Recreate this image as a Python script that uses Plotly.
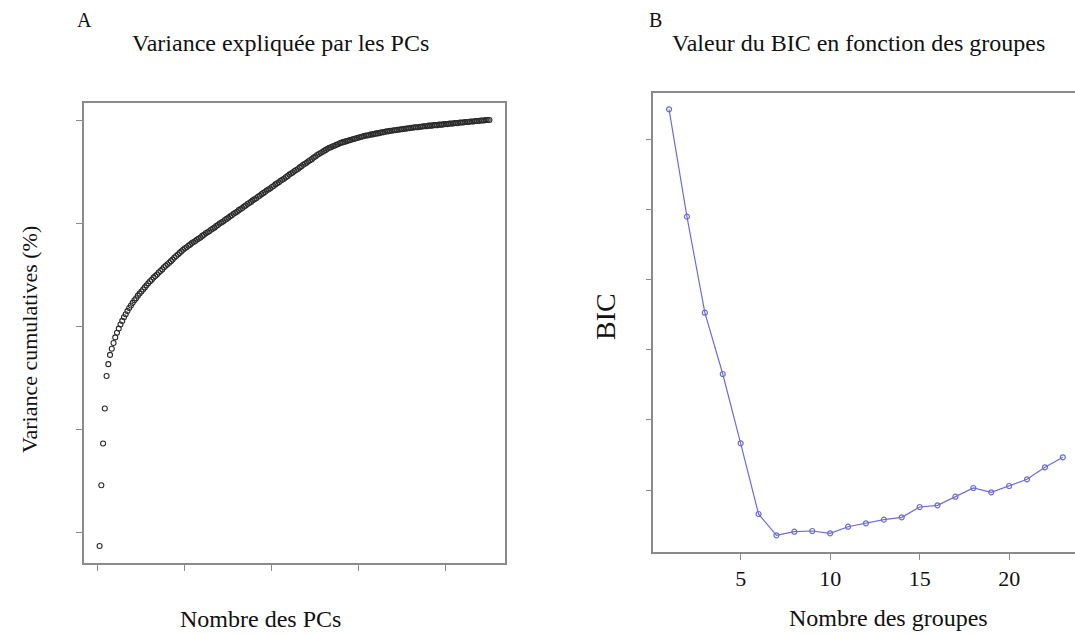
import plotly.graph_objects as go

# ---------------- Data ----------------
# Panel A: cumulative explained variance (%) per principal component
pc_variance_cum = [
    17.3, 29.1, 37.2, 44.0, 50.3, 52.6, 54.4, 55.6, 56.7, 57.8,
    58.7, 59.5, 60.3, 61.0, 61.7, 62.3, 62.9, 63.5, 64.0, 64.5,
    65.0, 65.4, 65.9, 66.3, 66.7, 67.1, 67.5, 67.9, 68.3, 68.7,
    69.0, 69.4, 69.7, 70.0, 70.4, 70.7, 71.0, 71.4, 71.7, 72.0,
    72.3, 72.6, 72.9, 73.3, 73.6, 73.9, 74.2, 74.5, 74.8, 75.1,
    75.3, 75.6, 75.8, 76.1, 76.3, 76.5, 76.8, 77.0, 77.2, 77.5,
    77.7, 78.0, 78.2, 78.4, 78.7, 78.9, 79.1, 79.4, 79.6, 79.9,
    80.1, 80.3, 80.6, 80.8, 81.0, 81.3, 81.5, 81.8, 82.0, 82.2,
    82.5, 82.7, 82.9, 83.2, 83.4, 83.7, 83.9, 84.1, 84.4, 84.6,
    84.8, 85.1, 85.3, 85.6, 85.8, 86.0, 86.3, 86.5, 86.7, 87.0,
    87.2, 87.5, 87.7, 87.9, 88.2, 88.4, 88.6, 88.9, 89.1, 89.4,
    89.6, 89.8, 90.1, 90.3, 90.5, 90.8, 91.0, 91.3, 91.5, 91.7,
    92.0, 92.2, 92.4, 92.7, 92.9, 93.2, 93.4, 93.6, 93.8, 94.0,
    94.2, 94.4, 94.6, 94.7, 94.9, 95.0, 95.2, 95.3, 95.5, 95.6,
    95.7, 95.8, 95.9, 96.0, 96.1, 96.2, 96.3, 96.4, 96.5, 96.6,
    96.7, 96.8, 96.9, 97.0, 97.0, 97.1, 97.2, 97.2, 97.3, 97.4,
    97.4, 97.5, 97.6, 97.6, 97.7, 97.8, 97.8, 97.9, 97.9, 98.0,
    98.0, 98.1, 98.1, 98.2, 98.2, 98.3, 98.3, 98.4, 98.4, 98.5,
    98.5, 98.6, 98.6, 98.6, 98.7, 98.7, 98.8, 98.8, 98.8, 98.9,
    98.9, 98.9, 99.0, 99.0, 99.0, 99.1, 99.1, 99.1, 99.2, 99.2,
    99.2, 99.3, 99.3, 99.3, 99.4, 99.4, 99.4, 99.5, 99.5, 99.5,
    99.6, 99.6, 99.6, 99.7, 99.7, 99.7, 99.8, 99.8, 99.8, 99.9,
    99.9, 99.9, 100.0, 100.0, 100.0,
]
pc_index = list(range(1, len(pc_variance_cum) + 1))
pc_xticks = [0, 50, 100, 150, 200]
pc_yticks = [20, 40, 60, 80, 100]

# Panel B: BIC value per number of groups (scale not labelled in the picture)
n_groups = list(range(1, 24))
bic_values = [
    20846, 17787, 15051, 13305, 11330, 9316, 8709, 8812, 8832, 8766,
    8954, 9051, 9155, 9222, 9516, 9564, 9809, 10057, 9934, 10114,
    10305, 10647, 10932,
]
bic_xticks = [5, 10, 15, 20]
bic_yticks = [10000, 12000, 14000, 16000, 18000, 20000]

# ---------------- Figure ----------------
W, H = 1075, 634
SERIF = "Liberation Serif, Times New Roman, serif"
FRAME = "#8a8a8a"
BLUE = "#6c6cd6"

def fx(px):
    return px / W

def fy(py):
    return 1 - py / H

fig = go.Figure()

fig.add_trace(go.Scatter(
    x=pc_index, y=pc_variance_cum, mode="markers",
    marker=dict(symbol="circle-open", size=5, color="#2a2a2a", line=dict(width=1.1)),
    xaxis="x", yaxis="y", showlegend=False, hoverinfo="skip",
))

fig.add_trace(go.Scatter(
    x=n_groups, y=bic_values, mode="lines+markers",
    line=dict(color=BLUE, width=1.2),
    marker=dict(symbol="circle-open", size=5, color=BLUE, line=dict(width=1.2)),
    xaxis="x2", yaxis="y2", showlegend=False, hoverinfo="skip",
))

axis_common = dict(
    showgrid=False, zeroline=False, showline=True, linecolor=FRAME, linewidth=1.5,
    ticks="outside", ticklen=6, tickwidth=1, tickcolor=FRAME,
)

fig.update_layout(
    width=W, height=H,
    margin=dict(l=0, r=0, t=0, b=0),
    paper_bgcolor="white", plot_bgcolor="white",
    font=dict(family=SERIF, color="#111111"),
    xaxis=dict(domain=[fx(84), fx(505)], range=[-7.96, 233.96], anchor="y",
               tickvals=pc_xticks, showticklabels=False, mirror=True, **axis_common),
    yaxis=dict(domain=[fy(563), fy(103)], range=[14.0, 103.3], anchor="x",
               tickvals=pc_yticks, showticklabels=False, mirror=True, **axis_common),
    xaxis2=dict(domain=[fx(653.3), 1.0], range=[0.12, 23.68], anchor="y2",
                tickvals=bic_xticks, ticktext=[str(v) for v in bic_xticks],
                tickfont=dict(family=SERIF, size=22, color="#111111"),
                mirror=True, **axis_common),
    yaxis2=dict(domain=[fy(552.3), fy(92.7)], range=[8225, 21319], anchor="x2",
                tickvals=bic_yticks, showticklabels=False, mirror=False, **axis_common),
)

def label(text, x, y, size, angle=0):
    fig.add_annotation(
        text=text, x=fx(x), y=fy(y), xref="paper", yref="paper",
        xanchor="center", yanchor="middle", showarrow=False, textangle=angle,
        font=dict(family=SERIF, size=size, color="#111111"),
    )

label("A", 84, 20, 20)
label("Variance expliquée par les PCs", 280, 43, 24)
label("Variance cumulatives (%)", 29, 340, 22, angle=-90)
label("Nombre des PCs", 260, 619, 24)

label("B", 655, 20, 20)
label("Valeur du BIC en fonction des groupes", 858, 43, 24)
label("BIC", 605, 317, 28, angle=-90)
label("Nombre des groupes", 888, 618, 24)

fig.write_html("out.html")
